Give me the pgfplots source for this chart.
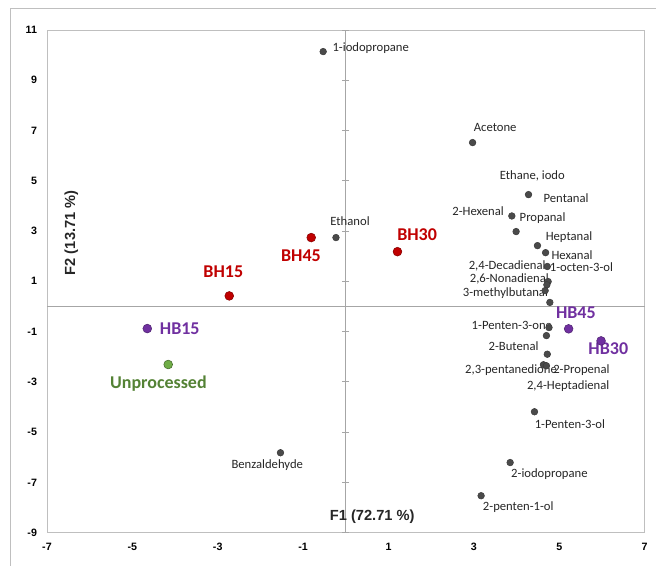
\documentclass[border=0pt]{standalone}
\usepackage{pgfplots}
\pgfplotsset{compat=1.18}
\usepackage{fontspec}
\setmainfont{Carlito}
\newfontfamily\arialfont{Liberation Sans}
\definecolor{ptgray}{HTML}{4A4A4A}
\definecolor{labgray}{HTML}{262626}
\definecolor{bhred}{HTML}{C00000}
\definecolor{hbpurple}{HTML}{7030A0}
\definecolor{ungreen}{HTML}{70AD47}
\definecolor{unlab}{HTML}{548235}
\definecolor{framegray}{HTML}{BFBFBF}
\definecolor{zerogray}{HTML}{A6A6A6}
\begin{document}
\begin{tikzpicture}
\path (-35.25pt,-24.75pt) rectangle (456.75pt,399.75pt);
\draw[framegray, line width=0.6pt] (-27.75pt,-24.75pt) -- (-27.75pt,393.75pt) -- (456.75pt,393.75pt);
\begin{axis}[
  at={(0,0)}, anchor=south west,
  scale only axis, width=448.5pt, height=377.25pt,
  xmin=-7, xmax=7, ymin=-9, ymax=11,
  xtick={-7,-5,...,7}, ytick={-9,-7,...,11},
  tick pos=left,
  axis line style={draw=framegray},
  major tick length=0pt,
  tick label style={font=\arialfont\bfseries\fontsize{8}{9}\selectfont, text=black},
  /pgf/number format/assume math mode=true,
  yticklabel style={xshift=-4pt},
  xticklabel style={yshift=-4pt},
  clip=false,
]
% zero lines
\draw[zerogray, line width=0.9pt] (axis cs:0,-9) -- (axis cs:0,11);
\draw[zerogray, line width=0.9pt] (axis cs:-7,0) -- (axis cs:7,0);
\addplot[only marks, mark=-, mark size=2.5pt, mark options={draw=zerogray, line width=0.6pt}] coordinates {
(0,-9) (0,-7) (0,-5) (0,-3) (0,-1) (0,1) (0,3) (0,5) (0,7) (0,9) (0,11)
};
% compounds
\addplot[only marks, mark=*, mark size=2.5pt, mark options={fill=ptgray, draw=ptgray!80!black}] coordinates {
(-0.53,10.14) (2.97,6.52) (4.28,4.45) (3.89,3.60) (3.99,2.98) (4.49,2.42)
(4.68,2.14) (4.72,1.59) (4.74,0.99) (4.71,0.86) (4.67,0.63) (4.78,0.16)
(4.76,-0.84) (4.70,-1.16) (4.72,-1.90) (4.63,-2.32) (4.70,-2.36) (4.42,-4.19)
(3.85,-6.21) (3.17,-7.53) (-0.23,2.74) (-1.53,-5.82)
};
% BH
\addplot[only marks, mark=*, mark size=3.3pt, mark options={fill=bhred, draw=bhred!70!black}] coordinates {
(-2.73,0.42) (-0.81,2.74) (1.21,2.18)
};
% HB
\addplot[only marks, mark=*, mark size=3.3pt, mark options={fill=hbpurple, draw=hbpurple!70!black}] coordinates {
(-4.65,-0.88) (5.22,-0.89) (5.98,-1.37)
};
% Unprocessed
\addplot[only marks, mark=*, mark size=3.3pt, mark options={fill=ungreen, draw=ungreen!60!black}] coordinates {
(-4.16,-2.31)
};
% compound labels
\begin{scope}[every node/.style={font=\fontsize{9.5}{11}\selectfont, text=labgray, inner sep=0pt}]
\node at (axis cs:0.585,10.28) {1-iodopropane};
\node at (axis cs:3.50,7.14) {Acetone};
\node at (axis cs:4.37,5.19) {Ethane, iodo};
\node at (axis cs:5.16,4.29) {Pentanal};
\node at (axis cs:3.10,3.81) {2-Hexenal};
\node at (axis cs:4.61,3.50) {Propanal};
\node at (axis cs:5.23,2.77) {Heptanal};
\node at (axis cs:5.30,2.05) {Hexanal};
\node at (axis cs:3.78,1.62) {2,4-Decadienal};
\node at (axis cs:5.52,1.55) {1-octen-3-ol};
\node at (axis cs:3.83,1.11) {2,6-Nonadienal};
\node at (axis cs:3.74,0.53) {3-methylbutanal};
\node at (axis cs:3.89,-0.77) {1-Penten-3-one};
\node at (axis cs:3.93,-1.59) {2-Butenal};
\node at (axis cs:3.87,-2.52) {2,3-pentanedione};
\node at (axis cs:5.52,-2.55) {2-Propenal};
\node at (axis cs:5.21,-3.16) {2,4-Heptadienal};
\node at (axis cs:5.25,-4.67) {1-Penten-3-ol};
\node at (axis cs:4.77,-6.66) {2-iodopropane};
\node at (axis cs:4.04,-7.98) {2-penten-1-ol};
\node at (axis cs:0.10,3.38) {Ethanol};
\node at (axis cs:-1.84,-6.30) {Benzaldehyde};
\end{scope}
% group labels
\begin{scope}[every node/.style={font=\bfseries\fontsize{13.5}{15}\selectfont, inner sep=0pt}]
\node[text=bhred] at (axis cs:-2.87,1.39) {BH15};
\node[text=bhred] at (axis cs:-1.05,2.02) {BH45};
\node[text=bhred] at (axis cs:1.67,2.87) {BH30};
\node[text=hbpurple] at (axis cs:-3.89,-0.88) {HB15};
\node[text=hbpurple] at (axis cs:5.39,-0.23) {HB45};
\node[text=hbpurple] at (axis cs:6.15,-1.69) {HB30};
\node[text=unlab] at (axis cs:-4.39,-3.05) {Unprocessed};
\end{scope}
% axis titles
\node[font=\arialfont\bfseries\fontsize{11}{13}\selectfont, text=labgray, inner sep=0pt] at (axis cs:0.62,-8.37) {F1 (72.71 \%)};
\node[font=\arialfont\bfseries\fontsize{11}{13}\selectfont, text=labgray, inner sep=0pt, rotate=90] at (axis cs:-6.43,2.93) {F2 (13.71 \%)};
\end{axis}
\end{tikzpicture}
\end{document}
